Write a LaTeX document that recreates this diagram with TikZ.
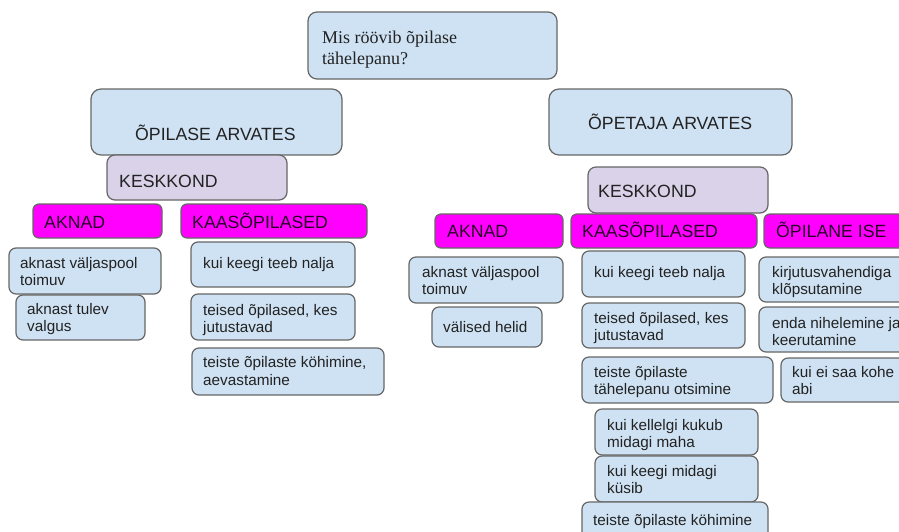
\documentclass[tikz,border=0pt]{standalone}
\usepackage{fontspec}
\setmainfont{Liberation Sans}
\newfontfamily\ttlserif{Liberation Serif}
\usetikzlibrary{fit}
\definecolor{lblue}{HTML}{CFE2F3}
\definecolor{lav}{HTML}{D9D2E9}
\definecolor{mag}{HTML}{FF00FF}
\definecolor{edgegrey}{HTML}{666666}
\definecolor{ink}{HTML}{222222}
\tikzset{
  boxbase/.style={draw=edgegrey, line width=1.2pt, rounded corners=7pt, inner sep=0pt, outer sep=0pt},
  bluebox/.style={boxbase, fill=lblue},
  bigbox/.style={boxbase, fill=lblue, rounded corners=10pt},
  lavbox/.style={boxbase, fill=lav, rounded corners=8pt},
  magbox/.style={boxbase, fill=mag, rounded corners=6pt},
  bodytext/.style={anchor=base west, inner sep=0pt, text=ink, font=\fontsize{15.3}{17.6}\selectfont},
  headtext/.style={anchor=base west, inner sep=0pt, text=ink, font=\fontsize{17.7}{20}\selectfont},
  magtext/.style={anchor=base west, inner sep=0pt, text=black!85!mag, font=\fontsize{17.7}{20}\selectfont},
  titletext/.style={anchor=base west, inner sep=0pt, text=ink, font=\ttlserif\fontsize{18}{21}\selectfont},
}
\newcommand\tl[2]{\vtop{\hbox{#1}\hbox{#2}}}
% #1 style, #2 name, #3 corner, #4 corner
\newcommand\mybox[4]{\node[#1, fit={(#3) (#4)}] (#2) {};}
\begin{document}
\begin{tikzpicture}[x=1pt, y=-1pt]
\useasboundingbox (0,0) rectangle (899,531);
\fill[white] (0,0) rectangle (899,531);
\clip (0,0) rectangle (899,531);

% title
\mybox{bluebox, rounded corners=9pt}{title}{308,12}{557,79}
\node[titletext] (title-t) at (322,43) {\tl{Mis röövib õpilase}{tähelepanu?}};

% ---------- left side ----------
\mybox{bigbox}{opil}{91,89}{342,155}
\node[headtext] (opil-t) at (135,140.5) {ÕPILASE ARVATES};
\mybox{lavbox}{keskL}{107,155}{287,200}
\node[headtext] (keskL-t) at (119,187) {KESKKOND};

\mybox{magbox}{aknL}{33,204}{162,238}
\node[magtext] (aknL-t) at (44,228.5) {AKNAD};
\mybox{magbox}{kaasL}{181,204}{367,238}
\node[magtext] (kaasL-t) at (192,228.5) {KAASÕPILASED};

\mybox{bluebox}{aL1}{9,248}{161,294}
\node[bodytext] (aL1-t) at (20,268) {\tl{aknast väljaspool}{toimuv}};
\mybox{bluebox}{aL2}{16,295}{145,340}
\node[bodytext] (aL2-t) at (27,314) {\tl{aknast tulev}{valgus}};

\mybox{bluebox}{kL1}{191,242}{355,287}
\node[bodytext] (kL1-t) at (203,268) {kui keegi teeb nalja};
\mybox{bluebox}{kL2}{191,294}{355,340}
\node[bodytext] (kL2-t) at (203,315) {\tl{teised õpilased, kes}{jutustavad}};
\mybox{bluebox}{kL3}{192,348}{384,395}
\node[bodytext] (kL3-t) at (203,367.5) {\tl{teiste õpilaste köhimine,}{aevastamine}};

% ---------- right side ----------
\mybox{bigbox}{opet}{549,89}{792,155}
\node[headtext] (opet-t) at (588,129.5) {ÕPETAJA ARVATES};
\mybox{lavbox}{keskR}{588,167}{768,213}
\node[headtext] (keskR-t) at (598,197) {KESKKOND};

\mybox{magbox}{aknR}{435,214}{563,248}
\node[magtext] (aknR-t) at (447,237) {AKNAD};
\mybox{magbox}{kaasR}{571,214}{757,248}
\node[magtext] (kaasR-t) at (582,237) {KAASÕPILASED};
\mybox{magbox}{iseR}{764,214}{915,248}
\node[magtext] (iseR-t) at (776,237) {ÕPILANE ISE};

\mybox{bluebox}{aR1}{409,257}{563,303}
\node[bodytext] (aR1-t) at (422,277) {\tl{aknast väljaspool}{toimuv}};
\mybox{bluebox}{aR2}{432,307}{542,347}
\node[bodytext] (aR2-t) at (443,332) {välised helid};

\mybox{bluebox}{kR1}{582,251}{745,297}
\node[bodytext] (kR1-t) at (594,277) {kui keegi teeb nalja};
\mybox{bluebox}{kR2}{582,303}{745,348}
\node[bodytext] (kR2-t) at (594,323) {\tl{teised õpilased, kes}{jutustavad}};
\mybox{bluebox}{kR3}{582,357}{773,403}
\node[bodytext] (kR3-t) at (594,377) {\tl{teiste õpilaste}{tähelepanu otsimine}};
\mybox{bluebox}{kR4}{595,409}{758,455}
\node[bodytext] (kR4-t) at (607,430) {\tl{kui kellelgi kukub}{midagi maha}};
\mybox{bluebox}{kR5}{595,456}{758,502}
\node[bodytext] (kR5-t) at (607,476) {\tl{kui keegi midagi}{küsib}};
\mybox{bluebox}{kR6}{582,502}{768,548}
\node[bodytext] (kR6-t) at (593,525) {teiste õpilaste köhimine};

\mybox{bluebox}{iR1}{759,257}{915,302}
\node[bodytext] (iR1-t) at (772,277) {\tl{kirjutusvahendiga}{klõpsutamine}};
\mybox{bluebox}{iR2}{759,307}{915,352}
\node[bodytext] (iR2-t) at (772,328) {\tl{enda nihelemine ja}{keerutamine}};
\mybox{bluebox}{iR3}{781,358}{915,402}
\node[bodytext] (iR3-t) at (792,377) {\tl{kui ei saa kohe}{abi}};
\end{tikzpicture}
\end{document}
